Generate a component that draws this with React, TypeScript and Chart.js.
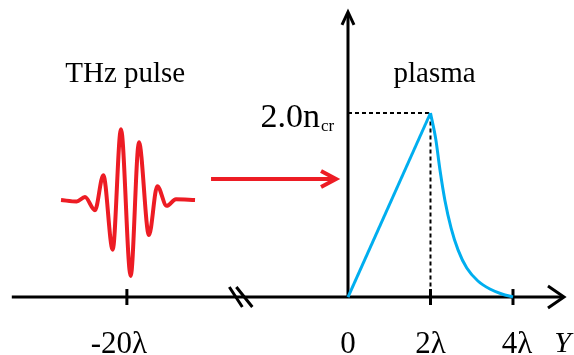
import React, { useEffect, useRef } from "react";
import { Chart, registerables } from "chart.js";

Chart.register(...registerables);

// ---- data ----
// x axis in units of λ (the -20λ position sits beyond an axis break)
const xTickValues = [-5.36, 0, 2, 4];
const xTickLabels = ["-20λ", "0", "2λ", "4λ"];
const yMarkValue = 2.0; // n_cr
const yMarkLabel = "2.0n";
const yMarkSub = "cr";
const axisTitleX = "Y";

// plasma density profile: linear ramp then decay
const rampX = [0, 2];
const rampY = [0, 2.0];
const decayX = [2, 2.13, 2.23, 2.35, 2.5, 2.67, 2.88, 3.15, 3.44, 3.73, 4.0];
const decayY = [2.0, 1.71, 1.38, 1.05, 0.75, 0.51, 0.315, 0.174, 0.087, 0.033, 0.0];

// THz pulse waveform (time in arbitrary units, amplitude normalised)
const pulseT = [-7.33, -5.59, -4.67, -3.56, -2.63, -1.59, -0.67, 0.41, 1.33, 2.44, 3.37, 4.41, 5.44, 7.56];
const pulseA = [0, -0.02, 0.04, -0.14, 0.34, -0.68, 0.97, -1.04, 0.79, -0.48, 0.19, -0.08, 0.01, 0];

const pulseLabel = "THz pulse";
const plasmaLabel = "plasma";

const BLUE = "#00AEEF";
const RED = "#ED1C24";
const FONT = "'Liberation Serif', 'Times New Roman', serif";

const schematicPlugin = {
  id: "schematic",
  beforeDatasetsDraw(chart: any) {
    const ctx = chart.ctx as CanvasRenderingContext2D;
    const xs = chart.scales.x;
    const ys = chart.scales.y;
    const X = (v: number) => xs.getPixelForValue(v);
    const Y = (v: number) => ys.getPixelForValue(v);
    const x0 = X(0);
    const y0 = Y(0);
    ctx.save();
    ctx.strokeStyle = "#000";
    ctx.lineWidth = 3;
    ctx.lineCap = "butt";
    // horizontal axis
    const xLeft = X(-8.15);
    const xTip = X(5.236);
    ctx.beginPath();
    ctx.moveTo(xLeft, y0);
    ctx.lineTo(xTip - 1, y0);
    ctx.stroke();
    ctx.beginPath();
    ctx.moveTo(xTip - 16, y0 - 11);
    ctx.lineTo(xTip, y0);
    ctx.lineTo(xTip - 16, y0 + 11);
    ctx.stroke();
    // vertical axis
    const yTip = Y(3.098);
    ctx.beginPath();
    ctx.moveTo(x0, y0);
    ctx.lineTo(x0, yTip + 1);
    ctx.stroke();
    ctx.beginPath();
    ctx.moveTo(x0 - 6, yTip + 13);
    ctx.lineTo(x0, yTip);
    ctx.lineTo(x0 + 6, yTip + 13);
    ctx.stroke();
    // ticks
    xTickValues.forEach((v) => {
      if (v === 0) return;
      const px = X(v);
      ctx.beginPath();
      ctx.moveTo(px, y0 - 8);
      ctx.lineTo(px, y0 + 8);
      ctx.stroke();
    });
    // axis break
    const bx = X(-2.61);
    ctx.beginPath();
    ctx.moveTo(bx - 11, y0 - 10);
    ctx.lineTo(bx + 2, y0 + 10);
    ctx.moveTo(bx - 4, y0 - 10);
    ctx.lineTo(bx + 12, y0 + 10);
    ctx.stroke();

    // red arrow
    const ay = Y(1.283);
    const a1 = X(-3.32);
    const a2 = X(-0.29);
    ctx.strokeStyle = RED;
    ctx.lineWidth = 4;
    ctx.beginPath();
    ctx.moveTo(a1, ay);
    ctx.lineTo(a2 - 2, ay);
    ctx.stroke();
    ctx.beginPath();
    ctx.moveTo(a2 - 15, ay - 8);
    ctx.lineTo(a2, ay);
    ctx.lineTo(a2 - 15, ay + 8);
    ctx.stroke();

    // texts
    ctx.fillStyle = "#000";
    ctx.textBaseline = "alphabetic";
    ctx.font = `29px ${FONT}`;
    ctx.textAlign = "center";
    ctx.fillText(pulseLabel, X(-5.4), 82);
    ctx.fillText(plasmaLabel, X(2.1), 82);

    // tick labels
    ctx.font = `31px ${FONT}`;
    const offsets = [-8, 0, 0, 4];
    xTickLabels.forEach((t, i) => {
      ctx.fillText(t, X(xTickValues[i]) + offsets[i], 353);
    });
    ctx.font = `italic 30px ${FONT}`;
    ctx.textAlign = "left";
    ctx.fillText(axisTitleX, X(5.0), 352);

    // y mark label
    const ym = Y(yMarkValue);
    ctx.font = `34px ${FONT}`;
    ctx.textAlign = "right";
    ctx.fillText(yMarkLabel, x0 - 28, ym + 14);
    ctx.font = `17px ${FONT}`;
    ctx.textAlign = "left";
    ctx.fillText(yMarkSub, x0 - 27, ym + 18);
    ctx.restore();
  },
};

export default function App() {
  const ref = useRef<HTMLCanvasElement | null>(null);
  useEffect(() => {
    document.body.style.margin = "0";
    const canvas = ref.current;
    if (!canvas) return;
    const chart = new Chart(canvas, {
      type: "line",
      data: {
        datasets: [
          {
            label: "ramp",
            data: rampX.map((x, i) => ({ x, y: rampY[i] })),
            borderColor: BLUE,
            borderWidth: 3,
            pointRadius: 0,
            tension: 0,
            xAxisID: "x",
            yAxisID: "y",
          },
          {
            label: "decay",
            data: decayX.map((x, i) => ({ x, y: decayY[i] })),
            borderColor: BLUE,
            borderWidth: 3,
            pointRadius: 0,
            cubicInterpolationMode: "monotone",
            xAxisID: "x",
            yAxisID: "y",
          },
          {
            label: "guide",
            data: [
              { x: 0, y: yMarkValue },
              { x: rampX[1], y: yMarkValue },
              { x: rampX[1], y: 0 },
            ],
            borderColor: "#000",
            borderWidth: 2,
            borderDash: [4, 3],
            pointRadius: 0,
            tension: 0,
            xAxisID: "x",
            yAxisID: "y",
          },
          {
            label: "pulse",
            data: pulseT.map((x, i) => ({ x, y: pulseA[i] })),
            borderColor: RED,
            borderWidth: 4,
            pointRadius: 0,
            cubicInterpolationMode: "monotone",
            xAxisID: "xp",
            yAxisID: "yp",
          },
        ],
      },
      options: {
        responsive: false,
        animation: false,
        devicePixelRatio: 1,
        layout: { padding: 0, autoPadding: false },
        plugins: {
          legend: { display: false },
          tooltip: { enabled: false },
        },
        events: [],
        scales: {
          x: { type: "linear", min: -8.436, max: 5.479, display: false },
          y: { type: "linear", min: -0.63, max: 3.228, display: false },
          xp: { type: "linear", min: -14.11, max: 49.67, display: false },
          yp: { type: "linear", min: -2.123, max: 2.74, display: false },
        },
      },
      plugins: [schematicPlugin],
    });
    return () => chart.destroy();
  }, []);
  return (
    <div style={{ width: 574, height: 355, background: "#fff" }}>
      <canvas ref={ref} width={574} height={355} style={{ display: "block" }} />
    </div>
  );
}
